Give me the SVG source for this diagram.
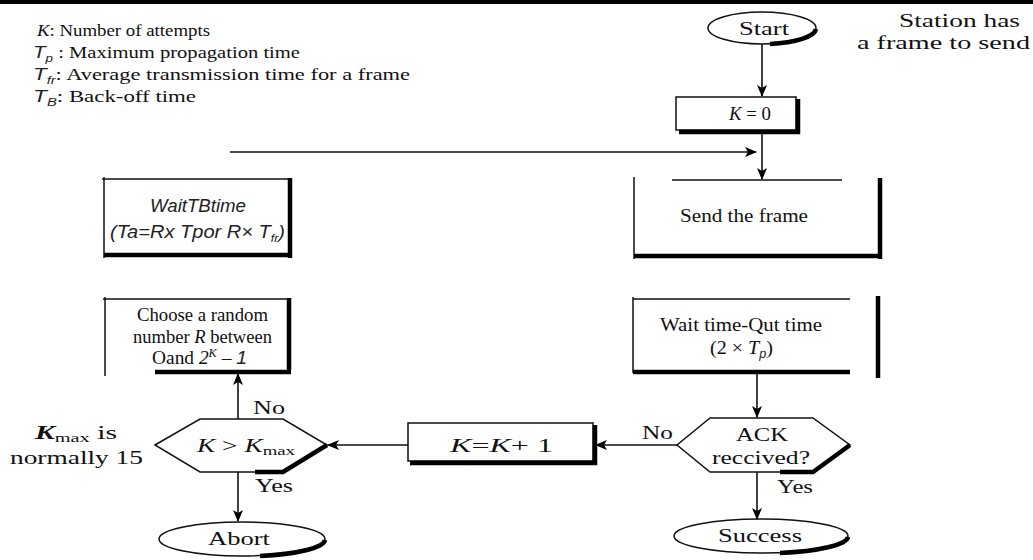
<svg xmlns="http://www.w3.org/2000/svg" width="1033" height="560" viewBox="0 0 1033 560">
  <style>
    .serif { font-family: "Liberation Serif", "Times New Roman", serif; font-size: 19px; fill: #111; }
    .legend { font-size: 17px; }
    .sans-i { font-family: "Liberation Sans", Arial, sans-serif; font-style: italic; fill: #222; }
    .it { font-style: italic; }
    .thin { fill: none; stroke: #111; stroke-width: 1.5; }
    .thick { fill: none; stroke: #000; stroke-width: 4.5; }
    .link { fill: none; stroke: #111; stroke-width: 1.6; }
  </style>
  <defs>
    <marker id="arrow" viewBox="0 0 12 10" refX="11" refY="5" markerWidth="12" markerHeight="10" markerUnits="userSpaceOnUse" orient="auto">
      <path d="M0,0 L12,5 L0,10 L3,5 z" fill="#000"/>
    </marker>
  </defs>

  <rect width="1033" height="560" fill="#fff"/>
  <!-- top rule -->
  <line x1="0" y1="2" x2="1033" y2="2" stroke="#000" stroke-width="4"/>

  <!-- legend of symbols -->
  <g id="legend">
    <text class="serif legend" x="37" y="36" textLength="173" lengthAdjust="spacingAndGlyphs"><tspan class="it">K</tspan>: Number of attempts</text>
    <text class="serif legend" x="33" y="58" textLength="267" lengthAdjust="spacingAndGlyphs"><tspan class="sans-i">T</tspan><tspan class="sans-i" font-size="11" dy="4">p</tspan><tspan dy="-4"> : Maximum propagation time</tspan></text>
    <text class="serif legend" x="33" y="80" textLength="377" lengthAdjust="spacingAndGlyphs"><tspan class="sans-i">T</tspan><tspan class="sans-i" font-size="11" dy="4">fr</tspan><tspan dy="-4">: Average transmission time for a frame</tspan></text>
    <text class="serif legend" x="33" y="102" textLength="163" lengthAdjust="spacingAndGlyphs"><tspan class="sans-i">T</tspan><tspan class="sans-i" font-size="11" dy="4">B</tspan><tspan dy="-4">: Back-off time</tspan></text>
  </g>

  <g id="start">
    <ellipse class="thin" cx="762" cy="28" rx="54" ry="16"/>
    <path class="thick" stroke-width="3" d="M816,29 A54 16 0 0 1 770,44"/>
    <text class="serif" x="739" y="35" textLength="50" lengthAdjust="spacingAndGlyphs">Start</text>
  </g>
  <g id="note-start">
    <text class="serif" x="899" y="27" textLength="121" lengthAdjust="spacingAndGlyphs">Station has</text>
    <text class="serif" x="857" y="49" textLength="173" lengthAdjust="spacingAndGlyphs">a frame to send</text>
  </g>

  <g id="k-zero">
    <rect class="thin" x="676" y="97" width="120" height="33"/>
    <polyline class="thick" stroke-width="3.5" points="679,132 798,132 798,99"/>
    <text class="serif" x="729" y="120" textLength="42" lengthAdjust="spacingAndGlyphs"><tspan class="it">K</tspan> = 0</text>
  </g>

  <g id="send-frame">
    <line class="thin" x1="672" y1="180" x2="842" y2="180"/>
    <line class="thin" x1="634" y1="177" x2="634" y2="259"/>
    <line class="thick" x1="880" y1="178" x2="880" y2="259"/>
    <line class="thick" x1="634" y1="256" x2="882" y2="256"/>
    <text class="serif" x="680" y="222" textLength="128" lengthAdjust="spacingAndGlyphs">Send the frame</text>
  </g>

  <g id="wait-backoff">
    <line class="thin" x1="102" y1="179" x2="290" y2="179"/>
    <line class="thin" x1="104" y1="177" x2="104" y2="258"/>
    <line class="thick" x1="290" y1="178" x2="290" y2="258"/>
    <line class="thick" x1="104" y1="255" x2="292" y2="255"/>
    <text class="sans-i" font-size="18" x="150" y="212" textLength="96" lengthAdjust="spacingAndGlyphs">WaitTBtime</text>
    <text class="sans-i" font-size="18" x="110" y="238" textLength="175" lengthAdjust="spacingAndGlyphs">(Ta=Rx Tpor R× T<tspan font-size="11" dy="4">fr</tspan><tspan dy="-4">)</tspan></text>
  </g>

  <g id="choose-r">
    <line class="thin" x1="103" y1="299" x2="290" y2="299"/>
    <line class="thin" x1="105" y1="297" x2="105" y2="376"/>
    <line class="thick" x1="289" y1="298" x2="289" y2="370"/>
    <line class="thick" x1="155" y1="372" x2="291" y2="372"/>
    <text class="serif" x="137" y="321" textLength="131" lengthAdjust="spacingAndGlyphs">Choose a random</text>
    <text class="serif" x="133" y="343" textLength="139" lengthAdjust="spacingAndGlyphs">number <tspan class="it">R</tspan> between</text>
    <text class="serif" x="152" y="364" textLength="95" lengthAdjust="spacingAndGlyphs">Oand <tspan class="it">2</tspan><tspan class="it" font-size="12" dy="-7">K</tspan><tspan dy="7"> – </tspan><tspan class="sans-i">1</tspan></text>
  </g>

  <g id="wait-timeout">
    <line class="thin" x1="633" y1="299" x2="850" y2="299"/>
    <line class="thin" x1="633" y1="297" x2="633" y2="373"/>
    <line class="thick" stroke-width="3" x1="633" y1="372" x2="850" y2="372"/>
    <line class="thick" x1="878" y1="296" x2="878" y2="378"/>
    <text class="serif" x="660" y="331" textLength="162" lengthAdjust="spacingAndGlyphs">Wait time-Qut time</text>
    <text class="serif" x="710" y="354" textLength="63" lengthAdjust="spacingAndGlyphs">(2 × <tspan class="it">T</tspan><tspan class="sans-i" font-size="12" dy="4">p</tspan><tspan dy="-4">)</tspan></text>
  </g>

  <g id="ack-received">
    <polygon class="thin" points="677,445 710,418 813,418 850,445 813,472 710,472"/>
    <polyline class="thick" stroke-width="4" points="780,472 813,472 850,445"/>
    <text class="serif" x="736" y="441" textLength="52" lengthAdjust="spacingAndGlyphs">ACK</text>
    <text class="serif" x="712" y="464" textLength="98" lengthAdjust="spacingAndGlyphs">reccived?</text>
  </g>

  <g id="k-increment">
    <rect class="thin" x="408" y="423" width="185" height="38"/>
    <polyline class="thick" stroke-width="4" points="410,463 595,463 595,425"/>
    <text class="serif" x="450" y="452" textLength="103" lengthAdjust="spacingAndGlyphs"><tspan class="it">K</tspan>=<tspan class="it">K</tspan>+ 1</text>
  </g>

  <g id="k-limit">
    <polygon class="thin" points="155,445 200,419 283,419 327,445 283,472 200,472"/>
    <polyline class="thick" stroke-width="4" points="255,472 283,472 327,445"/>
    <text class="serif" x="197" y="452" textLength="98" lengthAdjust="spacingAndGlyphs"><tspan class="it">K</tspan> &gt; <tspan class="it">K</tspan><tspan font-size="13" dy="3">max</tspan></text>
  </g>
  <g id="note-kmax">
    <text class="serif" x="35" y="439" textLength="82" lengthAdjust="spacingAndGlyphs"><tspan class="it" font-weight="bold">K</tspan><tspan font-size="13" dy="3">max</tspan><tspan dy="-3"> is</tspan></text>
    <text class="serif" x="10" y="464" textLength="133" lengthAdjust="spacingAndGlyphs">normally 15</text>
  </g>

  <g id="abort">
    <ellipse class="thin" cx="242" cy="539" rx="83" ry="17"/>
    <path class="thick" stroke-width="3" d="M325,540 A83 17 0 0 1 260,556"/>
    <text class="serif" x="208" y="545" textLength="62" lengthAdjust="spacingAndGlyphs">Abort</text>
  </g>

  <g id="success">
    <ellipse class="thin" cx="761" cy="536" rx="87" ry="17"/>
    <path class="thick" stroke-width="3" d="M848,537 A87 17 0 0 1 780,553"/>
    <text class="serif" x="718" y="542" textLength="84" lengthAdjust="spacingAndGlyphs">Success</text>
  </g>

  <g id="connectors">
    <line class="link" x1="762" y1="44" x2="762" y2="96" marker-end="url(#arrow)"/>
    <line class="link" x1="762" y1="133" x2="762" y2="179" marker-end="url(#arrow)"/>
    <line class="link" x1="230" y1="152" x2="756" y2="152" marker-end="url(#arrow)"/>
    <line class="link" x1="757" y1="374" x2="757" y2="417" marker-end="url(#arrow)"/>
    <line class="link" x1="757" y1="472" x2="757" y2="519" marker-end="url(#arrow)"/>
    <line class="link" x1="677" y1="445" x2="596" y2="445" marker-end="url(#arrow)"/>
    <line class="link" x1="408" y1="445" x2="328" y2="445" marker-end="url(#arrow)"/>
    <line class="link" x1="238" y1="419" x2="238" y2="374" marker-end="url(#arrow)"/>
    <line class="link" x1="238" y1="472" x2="238" y2="521" marker-end="url(#arrow)"/>
    <text class="serif" x="642" y="439" textLength="31" lengthAdjust="spacingAndGlyphs">No</text>
    <text class="serif" x="777" y="493" textLength="36" lengthAdjust="spacingAndGlyphs">Yes</text>
    <text class="serif" x="253" y="414" textLength="32" lengthAdjust="spacingAndGlyphs">No</text>
    <text class="serif" x="255" y="492" textLength="38" lengthAdjust="spacingAndGlyphs">Yes</text>
  </g>
</svg>
